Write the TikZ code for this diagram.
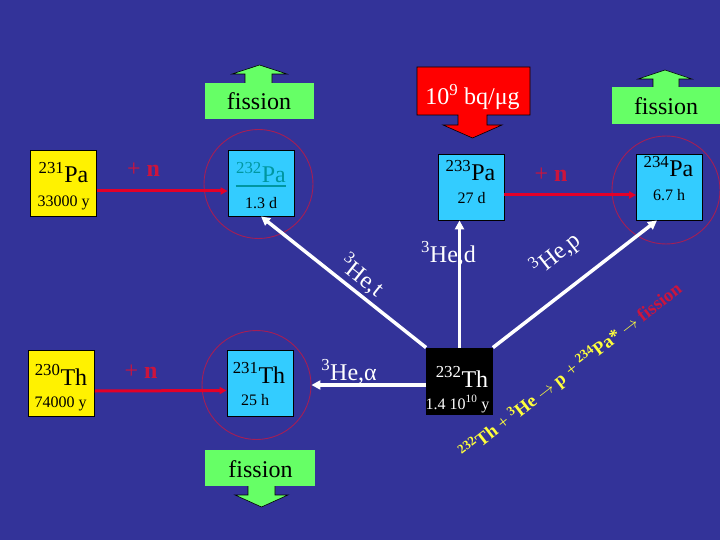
\documentclass[tikz,border=0pt]{standalone}
\usepackage{fontspec}
\setmainfont{Liberation Serif}
\usetikzlibrary{arrows.meta,calc}
\definecolor{bgblue}{RGB}{51,51,153}
\definecolor{cyanbox}{RGB}{51,204,255}
\definecolor{greenbox}{RGB}{102,255,102}
\definecolor{ringred}{RGB}{165,30,85}
\definecolor{linered}{RGB}{228,0,40}
\definecolor{textred}{RGB}{205,20,60}
\definecolor{tealtxt}{RGB}{0,150,160}
\definecolor{eqyellow}{RGB}{255,255,60}
\newcommand\fs[1]{\fontsize{#1}{#1}\selectfont}
\begin{document}
\begin{tikzpicture}[x=1pt,y=-1pt,
  nbox/.style={draw=black,line width=0.8pt,minimum width=66pt,minimum height=66pt,inner sep=0pt},
  ybox/.style={nbox,fill=yellow},
  cbox/.style={nbox,fill=cyanbox},
  kbox/.style={nbox,fill=black,draw=black},
  ring/.style={draw=ringred,line width=0.9pt,circle,inner sep=0pt},
  big/.style={font=\fs{24},inner sep=0pt,anchor=base},
  small/.style={font=\fs{16},inner sep=0pt,anchor=base},
  narrow/.style={draw=linered,line width=3pt,-{Triangle[length=7pt,width=7pt]}},
  warrow/.style={draw=white,line width=3.5pt,-{Triangle[length=9pt,width=9pt]}},
  plusn/.style={text=textred,font=\fs{24},inner sep=0pt,anchor=base},
  lab/.style={text=white,font=\fs{24},inner sep=0pt},
  callout/.style={fill=greenbox,draw=black,line width=0.6pt},
  fistext/.style={font=\fs{24},inner sep=0pt}
]
\fill[bgblue] (0,0) rectangle (720,540);
\useasboundingbox (0,0) rectangle (720,540);

% rings
\node[ring,minimum size=109pt] (ring232) at (258.5,184) {};
\node[ring,minimum size=108pt] (ring234) at (666,190) {};
\node[ring,minimum size=109pt] (ring231) at (256.5,385) {};

% callouts
\fill[greenbox] (205,83) rectangle (314,119);
\filldraw[callout] (245,83) -- (245,74) -- (232,74) -- (259.5,65) -- (287,74) -- (272,74) -- (272,83);
\node[fistext] (fisA) at (259,101.5) {fission};

\fill[greenbox] (612,87) rectangle (720,124);
\filldraw[callout] (653,87) -- (653,79) -- (638,79) -- (665,70) -- (692,79) -- (679,79) -- (679,87);
\node[fistext] (fisB) at (666,106) {fission};

\fill[greenbox] (205,450) rectangle (315,486);
\filldraw[callout] (248,486) -- (248,495) -- (235,495) -- (261.5,507) -- (288,495) -- (275,495) -- (275,486);
\node[fistext] (fisC) at (260.5,469.5) {fission};

\filldraw[fill=red,draw=black,line width=0.6pt] (417,67) -- (530,67) -- (530,115) -- (487,115) -- (487,125) -- (502,125) -- (472.5,138) -- (443,125) -- (458,125) -- (458,115) -- (417,115) -- cycle;
\node[font=\fs{24},text=white,inner sep=0pt,anchor=base] (rate) at (472.5,105) {10\textsuperscript{9} bq/μg};

% boxes
\node[ybox] (pa231) at (63.5,183) {};
\node[cbox] (pa232) at (261,183) {};
\node[cbox] (pa233) at (471,187) {};
\node[cbox] (pa234) at (669.5,187) {};
\node[ybox] (th230) at (61.5,383.5) {};
\node[cbox] (th231) at (260,383) {};
\node[kbox] (th232) at (459.5,381) {};

% box texts
\node[big] (pa231t) at (63.5,183) {\textsuperscript{231}Pa};
\node[small] (pa231h) at (63.5,207) {33000 y};
\node[big,text=tealtxt] (pa232t) at (261,183) {\textsuperscript{232}Pa};
\draw[tealtxt,line width=1.4pt] ([yshift=-3pt]pa232t.base west) -- ([yshift=-3pt]pa232t.base east);
\node[small] (pa232h) at (261,208) {1.3 d};
\node[big] (pa233t) at (470.5,181) {\textsuperscript{233}Pa};
\node[small] (pa233h) at (471.5,204) {27 d};
\node[big] (pa234t) at (668.5,177) {\textsuperscript{234}Pa};
\node[small] (pa234h) at (669,201) {6.7 h};
\node[big] (th230t) at (61,385) {\textsuperscript{230}Th};
\node[small] (th230h) at (60.5,407) {74000 y};
\node[big] (th231t) at (259,383) {\textsuperscript{231}Th};
\node[small] (th231h) at (255,405) {25 h};
\node[big,text=white] (th232t) at (462,387) {\textsuperscript{232}Th};
\node[small,text=white] (th232h) at (457.5,409) {1.4 10\textsuperscript{10} y};

% neutron captures
\draw[narrow] ([yshift=-8pt]pa231.east) -- ([yshift=-8pt]pa232.west);
\draw[narrow] ([yshift=-8pt]pa233.east) -- ([yshift=-8pt]pa234.west);
\draw[narrow] ([yshift=-7.5pt]th230.east) -- ([yshift=-7.5pt]th231.west);
\node[plusn] (n1) at (143.5,177) {+ \textbf{n}};
\node[plusn] (n2) at (551,182) {+ \textbf{n}};
\node[plusn] (n3) at (141,378) {+ \textbf{n}};

% 3He reactions
\node[lab,anchor=base] (ld) at (448.5,262) {\textsuperscript{3}He,d};
\node[lab,anchor=base] (la) at (349,380) {\textsuperscript{3}He,α};
\node[lab,rotate=-38.5] (lt) at (362,276) {\textsuperscript{3}He,t};
\node[lab,rotate=38] (lp) at (556,254) {\textsuperscript{3}He,p};
\draw[warrow] (th232.north west) -- (pa232.south);
\draw[warrow] (th232.north) -- (th232.north |- pa233.south);
\draw[warrow] (th232.north east) -- ([xshift=-12.5pt]pa234.south);
\draw[warrow] (th232.west |- ring231.east) -- (ring231.east);

% equation
\node[rotate=37.7,text=eqyellow,font=\fs{18.5}\bfseries,inner sep=0pt] (eq) at (571,371)
  {\textsuperscript{232}Th {\mdseries +} \textsuperscript{3}He $\rightarrow$ p {\mdseries +} \textsuperscript{234}Pa* $\rightarrow$ \textcolor{textred}{fission}};
\end{tikzpicture}
\end{document}
